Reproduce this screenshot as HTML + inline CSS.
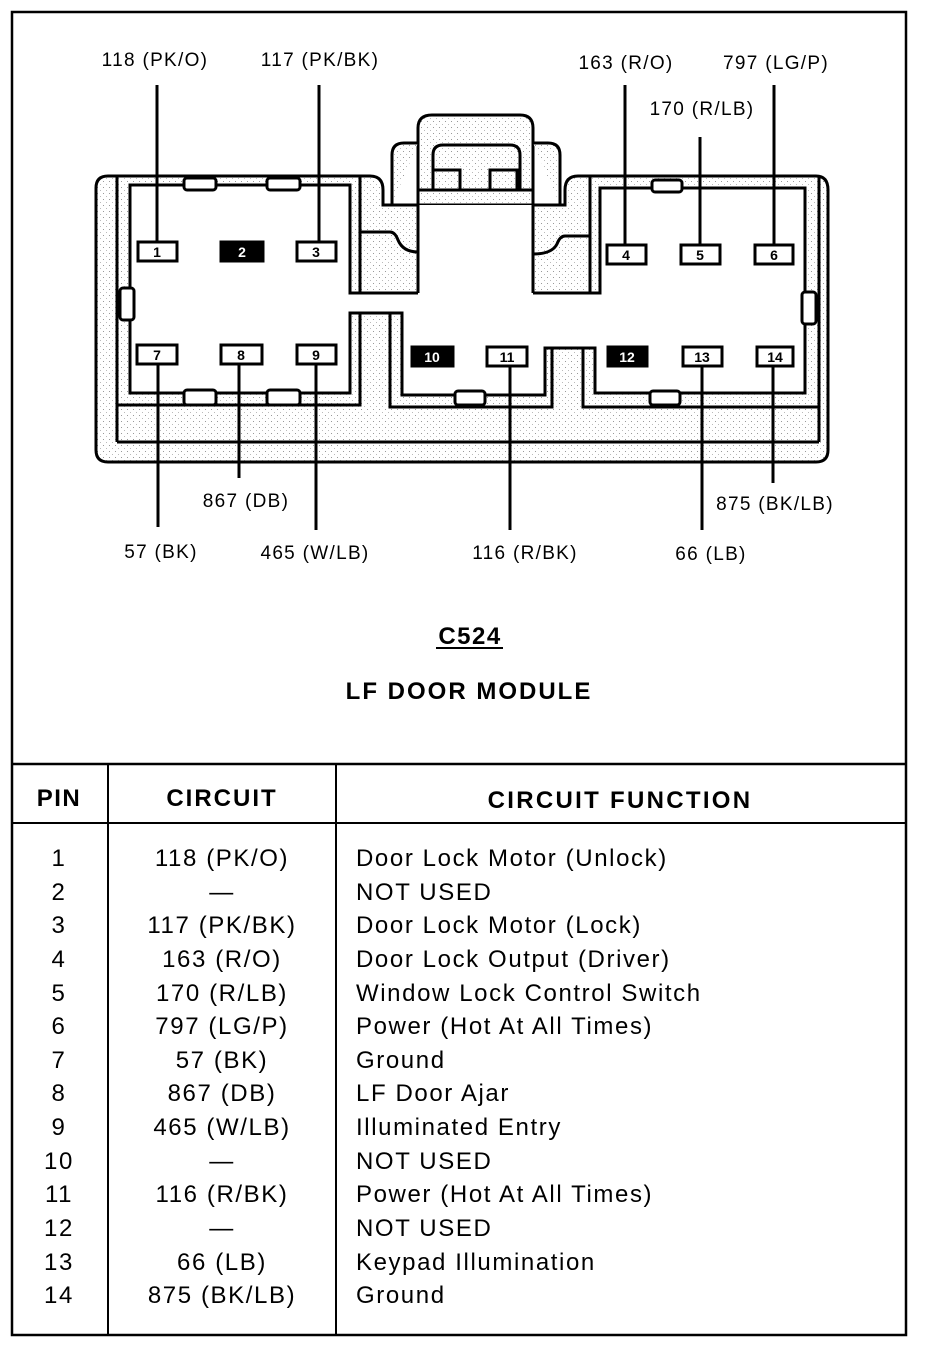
<!DOCTYPE html>
<html><head><meta charset="utf-8"><style>
html,body{margin:0;padding:0;background:#fff;}
svg{display:block;}
text{font-family:"Liberation Sans",sans-serif;fill:#000;}
</style></head><body>
<svg width="928" height="1346" viewBox="0 0 928 1346" xmlns="http://www.w3.org/2000/svg">
<defs>
<pattern id="dots" width="6" height="6" patternUnits="userSpaceOnUse">
<rect width="6" height="6" fill="#fff"/>
<rect x="1" y="1" width="1" height="1" fill="#999"/>
<rect x="4" y="4" width="1" height="1" fill="#bbb"/>
</pattern>
</defs>
<rect x="12" y="12" width="894" height="1323" fill="none" stroke="#000" stroke-width="2.5"/>
<line x1="12" y1="764" x2="906" y2="764" stroke="#000" stroke-width="2.5"/>
<line x1="12" y1="823" x2="906" y2="823" stroke="#000" stroke-width="2"/>
<line x1="108" y1="764" x2="108" y2="1335" stroke="#000" stroke-width="2"/>
<line x1="336" y1="764" x2="336" y2="1335" stroke="#000" stroke-width="2"/>

<g stroke="#000" stroke-width="3" fill="none">
<path d="M418 205 V128 Q418 115 432 115 H520 Q533 115 533 128 V205" fill="url(#dots)"/>
<path d="M392 205 V155 Q392 143 404 143 H418" fill="url(#dots)"/>
<path d="M533 143 H548 Q560 143 560 155 V205" fill="url(#dots)"/>
<path d="M433 190 V155 Q433 145 443 145 H510 Q520 145 520 155 V190"/>
<path d="M433 190 V170 H460 V190 M490 190 V170 H517 V190"/>
<line x1="418" y1="190" x2="533" y2="190"/>
<line x1="383" y1="205" x2="565" y2="205" stroke-width="2"/>
<path d="M108 176 H370 Q383 176 383 190 V205 H565 V190 Q565 176 578 176 H816 Q828 176 828 190 V450 Q828 462 816 462 H108 Q96 462 96 450 V188 Q96 176 108 176 Z" fill="url(#dots)"/>
<line x1="117" y1="176" x2="117" y2="442"/>
<line x1="819" y1="176" x2="819" y2="442"/>
<line x1="117" y1="442" x2="819" y2="442"/>
<path d="M130 185 V393 H350 V313 H402 V395 H545 V348 H595 V393 H805 V188 H600 V293 H533 V205 H418 V293 H350 V185 Z" fill="#fff"/>
<rect x="418" y="205" width="115" height="110" fill="#fff" stroke="none"/>
<line x1="418" y1="205" x2="418" y2="293"/>
<line x1="533" y1="205" x2="533" y2="293"/>
<path d="M360 176 V293 H418"/>
<path d="M360 232 H390 Q395 232 398 240 Q403 252 418 252"/>
<path d="M590 176 V293 H533"/>
<path d="M590 236 H565 Q560 236 557 244 Q552 254 533 254"/>
<path d="M117 405 H360 V313 M390 313 V407 H552 V348 M583 348 V407 H819"/>
<rect x="184" y="178" width="32" height="12" rx="3" fill="#fff"/>
<rect x="267" y="178" width="33" height="12" rx="3" fill="#fff"/>
<rect x="652" y="180" width="30" height="12" rx="3" fill="#fff"/>
<rect x="184" y="390" width="32" height="15" rx="3" fill="#fff"/>
<rect x="267" y="390" width="33" height="15" rx="3" fill="#fff"/>
<rect x="455" y="391" width="30" height="14" rx="3" fill="#fff"/>
<rect x="650" y="391" width="30" height="14" rx="3" fill="#fff"/>
<rect x="120" y="288" width="14" height="32" rx="3" fill="#fff"/>
<rect x="802" y="292" width="14" height="32" rx="3" fill="#fff"/>
</g>
<g stroke="#000" stroke-width="3">
<line x1="157" y1="85" x2="157" y2="244"/>
<line x1="319" y1="85" x2="319" y2="244"/>
<line x1="625" y1="85" x2="625" y2="246"/>
<line x1="700" y1="137" x2="700" y2="246"/>
<line x1="774" y1="85" x2="774" y2="246"/>
<line x1="158" y1="364" x2="158" y2="527"/>
<line x1="239" y1="364" x2="239" y2="478"/>
<line x1="316" y1="364" x2="316" y2="530"/>
<line x1="510" y1="366" x2="510" y2="530"/>
<line x1="702" y1="366" x2="702" y2="530"/>
<line x1="773" y1="366" x2="773" y2="483"/>
</g>
<g stroke="#000" stroke-width="3" fill="#fff">
<rect x="138" y="242" width="39" height="19"/>
<rect x="221" y="242" width="42" height="19" fill="#000"/>
<rect x="297" y="242" width="39" height="19"/>
<rect x="607" y="245" width="39" height="19"/>
<rect x="681" y="245" width="39" height="19"/>
<rect x="755" y="245" width="38" height="19"/>
<rect x="137" y="345" width="40" height="19"/>
<rect x="221" y="345" width="41" height="19"/>
<rect x="297" y="345" width="39" height="19"/>
<rect x="412" y="347" width="41" height="19" fill="#000"/>
<rect x="487" y="347" width="40" height="19"/>
<rect x="608" y="347" width="39" height="19" fill="#000"/>
<rect x="683" y="347" width="39" height="19"/>
<rect x="757" y="347" width="36" height="19"/>
</g>
<g font-size="14" font-weight="bold" text-anchor="middle">
<text x="157" y="257">1</text><text x="242" y="257" style="fill:#fff">2</text><text x="316" y="257">3</text>
<text x="626" y="260">4</text><text x="700" y="260">5</text><text x="774" y="260">6</text>
<text x="157" y="360">7</text><text x="241" y="360">8</text><text x="316" y="360">9</text>
<text x="432" y="362" style="fill:#fff">10</text><text x="507" y="362">11</text><text x="627" y="362" style="fill:#fff">12</text>
<text x="702" y="362">13</text><text x="775" y="362">14</text>
</g>
<g font-size="19" text-anchor="middle" letter-spacing="1.3">
<text x="155" y="66">118 (PK/O)</text>
<text x="320" y="66">117 (PK/BK)</text>
<text x="626" y="69">163 (R/O)</text>
<text x="776" y="69">797 (LG/P)</text>
<text x="702" y="115">170 (R/LB)</text>
<text x="246" y="507">867 (DB)</text>
<text x="161" y="558">57 (BK)</text>
<text x="315" y="559">465 (W/LB)</text>
<text x="525" y="559">116 (R/BK)</text>
<text x="711" y="560">66 (LB)</text>
<text x="775" y="510">875 (BK/LB)</text>
</g>
<g font-size="24" font-weight="bold" text-anchor="middle">
<text x="470" y="644" letter-spacing="1.5">C524</text>
<line x1="436" y1="648" x2="503" y2="648" stroke="#000" stroke-width="2"/>
<text x="469" y="699" letter-spacing="2">LF DOOR MODULE</text>
<text x="59" y="806" letter-spacing="1.5">PIN</text>
<text x="222" y="806" letter-spacing="2">CIRCUIT</text>
<text x="620" y="808" letter-spacing="2.3">CIRCUIT FUNCTION</text>
</g>
<g font-size="24" letter-spacing="1.6">
<g text-anchor="middle">
<text x="59" y="866">1</text><text x="59" y="900">2</text><text x="59" y="933">3</text><text x="59" y="967">4</text>
<text x="59" y="1001">5</text><text x="59" y="1034">6</text><text x="59" y="1068">7</text><text x="59" y="1101">8</text>
<text x="59" y="1135">9</text><text x="59" y="1169">10</text><text x="59" y="1202">11</text><text x="59" y="1236">12</text>
<text x="59" y="1270">13</text><text x="59" y="1303">14</text>
<text x="222" y="866">118 (PK/O)</text><text x="222" y="900">—</text><text x="222" y="933">117 (PK/BK)</text>
<text x="222" y="967">163 (R/O)</text><text x="222" y="1001">170 (R/LB)</text><text x="222" y="1034">797 (LG/P)</text>
<text x="222" y="1068">57 (BK)</text><text x="222" y="1101">867 (DB)</text><text x="222" y="1135">465 (W/LB)</text>
<text x="222" y="1169">—</text><text x="222" y="1202">116 (R/BK)</text><text x="222" y="1236">—</text>
<text x="222" y="1270">66 (LB)</text><text x="222" y="1303">875 (BK/LB)</text>
</g>
<text x="356" y="866">Door Lock Motor (Unlock)</text>
<text x="356" y="900">NOT USED</text>
<text x="356" y="933">Door Lock Motor (Lock)</text>
<text x="356" y="967">Door Lock Output (Driver)</text>
<text x="356" y="1001">Window Lock Control Switch</text>
<text x="356" y="1034">Power (Hot At All Times)</text>
<text x="356" y="1068">Ground</text>
<text x="356" y="1101">LF Door Ajar</text>
<text x="356" y="1135">Illuminated Entry</text>
<text x="356" y="1169">NOT USED</text>
<text x="356" y="1202">Power (Hot At All Times)</text>
<text x="356" y="1236">NOT USED</text>
<text x="356" y="1270">Keypad Illumination</text>
<text x="356" y="1303">Ground</text>
</g>
</svg>
</body></html>
